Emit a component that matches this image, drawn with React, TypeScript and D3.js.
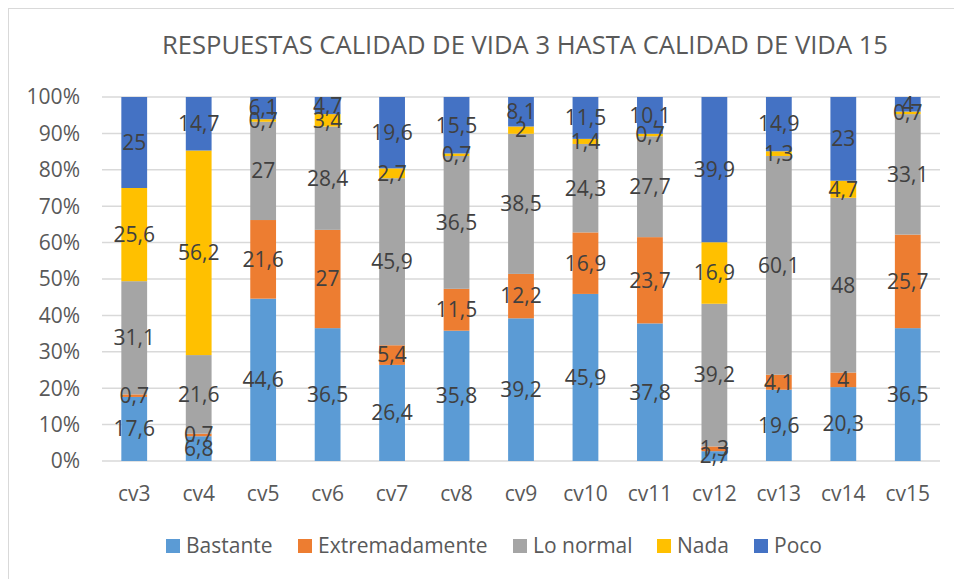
import { useEffect, useRef } from "react";
import * as d3 from "d3";

const categories = ["cv3", "cv4", "cv5", "cv6", "cv7", "cv8", "cv9", "cv10", "cv11", "cv12", "cv13", "cv14", "cv15"];
const seriesNames = ["Bastante", "Extremadamente", "Lo normal", "Nada", "Poco"];
const bastante = [17.6, 6.8, 44.6, 36.5, 26.4, 35.8, 39.2, 45.9, 37.8, 2.7, 19.6, 20.3, 36.5];
const extremadamente = [0.7, 0.7, 21.6, 27, 5.4, 11.5, 12.2, 16.9, 23.7, 1.3, 4.1, 4, 25.7];
const loNormal = [31.1, 21.6, 27, 28.4, 45.9, 36.5, 38.5, 24.3, 27.7, 39.2, 60.1, 48, 33.1];
const nada = [25.6, 56.2, 0.7, 3.4, 2.7, 0.7, 2, 1.4, 0.7, 16.9, 1.3, 4.7, 0.7];
const poco = [25, 14.7, 6.1, 4.7, 19.6, 15.5, 8.1, 11.5, 10.1, 39.9, 14.9, 23, 4];
const yTicks = [0, 10, 20, 30, 40, 50, 60, 70, 80, 90, 100];
const colors = ["#5B9BD5", "#ED7D31", "#A5A5A5", "#FFC000", "#4472C4"];

const FONT = "'Open Sans', 'Noto Sans', sans-serif";

export default function App() {
  const svgRef = useRef<SVGSVGElement>(null);

  useEffect(() => {
    if (!svgRef.current) return;
    const svg = d3.select(svgRef.current);
    svg.selectAll("*").remove();

    const width = 954;
    const height = 579;
    const plot = { left: 102, right: 940, top: 97, bottom: 461 };

    svg.attr("width", width).attr("height", height);

    svg
      .append("rect")
      .attr("x", 8.5)
      .attr("y", 8.5)
      .attr("width", 1000)
      .attr("height", 1000)
      .attr("fill", "#fff")
      .attr("stroke", "#D9D9D9");

    const x = d3
      .scaleBand<string>()
      .domain(categories)
      .range([plot.left, plot.right])
      .paddingInner(0.6)
      .paddingOuter(0.3);

    const y = d3.scaleLinear().domain([0, 100]).range([plot.bottom, plot.top]);

    // Grid
    svg
      .append("g")
      .selectAll("line")
      .data(yTicks)
      .join("line")
      .attr("x1", plot.left)
      .attr("x2", plot.right)
      .attr("y1", (d) => y(d))
      .attr("y2", (d) => y(d))
      .attr("stroke", "#D9D9D9")
      .attr("stroke-width", 1.5);

    // Y labels
    svg
      .append("g")
      .selectAll("text")
      .data(yTicks)
      .join("text")
      .attr("x", 80)
      .attr("y", (d) => y(d))
      .attr("dy", "0.35em")
      .attr("text-anchor", "end")
      .attr("fill", "#595959")
      .attr("font-size", "21px")
      .attr("font-family", FONT)
      .text((d) => `${d}%`);

    // X labels
    svg
      .append("g")
      .selectAll("text")
      .data(categories)
      .join("text")
      .attr("x", (d) => (x(d) as number) + x.bandwidth() / 2)
      .attr("y", 494)
      .attr("dy", "0.35em")
      .attr("text-anchor", "middle")
      .attr("fill", "#595959")
      .attr("font-size", "21px")
      .attr("font-family", FONT)
      .text((d) => d);

    const table = categories.map((c, i) => ({
      cat: c,
      Bastante: bastante[i],
      Extremadamente: extremadamente[i],
      "Lo normal": loNormal[i],
      Nada: nada[i],
      Poco: poco[i],
    }));

    const stacked = d3.stack<any>().keys(seriesNames)(table);

    const layers = svg
      .append("g")
      .selectAll("g")
      .data(stacked)
      .join("g")
      .attr("fill", (_, i) => colors[i]);

    layers
      .selectAll("rect")
      .data((d) => d)
      .join("rect")
      .attr("x", (d) => x(d.data.cat) as number)
      .attr("width", x.bandwidth())
      .attr("y", (d) => y(d[1]))
      .attr("height", (d) => y(d[0]) - y(d[1]));

    // Data labels
    const labels = svg.append("g");
    stacked.forEach((layer) => {
      labels
        .append("g")
        .selectAll("text")
        .data(layer)
        .join("text")
        .attr("x", (d) => (x(d.data.cat) as number) + x.bandwidth() / 2)
        .attr("y", (d) => y((d[0] + d[1]) / 2))
        .attr("dy", "0.35em")
        .attr("text-anchor", "middle")
        .attr("fill", "#404040")
        .attr("font-size", "21px")
        .attr("font-family", FONT)
        .text((d) => String(+(d[1] - d[0]).toFixed(1)).replace(".", ","));
    });

    // Title
    svg
      .append("text")
      .attr("x", 525)
      .attr("y", 45)
      .attr("dy", "0.35em")
      .attr("text-anchor", "middle")
      .attr("fill", "#595959")
      .attr("font-size", "25px")
      .attr("font-family", FONT)
      .attr("textLength", 726)
      .attr("lengthAdjust", "spacingAndGlyphs")
      .text("RESPUESTAS CALIDAD DE VIDA 3 HASTA CALIDAD DE VIDA 15");

    // Legend
    const legendX = [166, 298, 513, 657, 754];
    const legend = svg
      .append("g")
      .selectAll("g")
      .data(seriesNames)
      .join("g")
      .attr("transform", (_, i) => `translate(${legendX[i]},546)`);
    legend
      .append("rect")
      .attr("x", 0)
      .attr("y", -7)
      .attr("width", 14)
      .attr("height", 14)
      .attr("fill", (_, i) => colors[i]);
    legend
      .append("text")
      .attr("x", 20)
      .attr("y", 0)
      .attr("dy", "0.35em")
      .attr("fill", "#595959")
      .attr("font-size", "21px")
      .attr("font-family", FONT)
      .text((d) => d);
  }, []);

  return (
    <svg
      ref={svgRef}
      style={{ position: "absolute", left: 0, top: 0, display: "block" }}
    />
  );
}
